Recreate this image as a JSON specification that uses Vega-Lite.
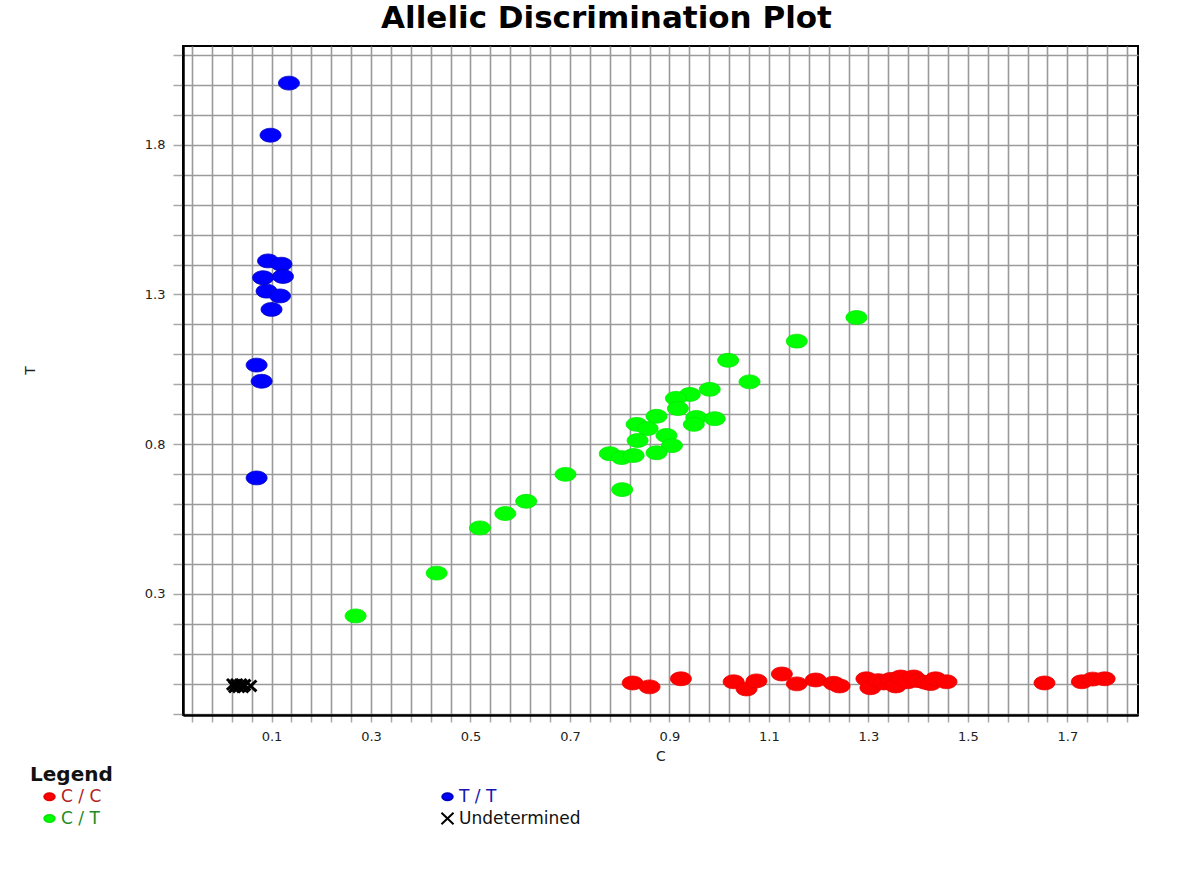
{
  "$schema": "https://vega.github.io/schema/vega-lite/v6.json",
  "autosize": "none",
  "width": 955,
  "height": 669,
  "padding": {"left": 183, "top": 46, "right": 56, "bottom": 172},
  "background": "#ffffff",
  "title": {"text": "Allelic Discrimination Plot", "font": "DejaVu Sans", "fontSize": 31, "fontWeight": "bold", "color": "#000000", "anchor": "middle", "dx": -54, "offset": -13, "baseline": "alphabetic"},
  "config": {
    "view": {"stroke": "#000000", "strokeWidth": 2},
    "axis": {"labelFont": "DejaVu Sans", "titleFont": "DejaVu Sans", "labelColor": "#222222", "titleColor": "#222222", "labelFontSize": 13, "titleFontSize": 14, "titleFontWeight": "normal", "gridColor": "#9a9a9a", "gridWidth": 1.6, "gridOpacity": 1, "tickColor": "#a8a8a8", "tickWidth": 1.5, "domainColor": "#000000", "domainWidth": 2.5, "labelOverlap": false, "labelFlush": false}
  },
  "data": {"values": [
    {"C": 0.826, "T": 0.002, "genotype": "C / C"},
    {"C": 0.860, "T": -0.011, "genotype": "C / C"},
    {"C": 0.923, "T": 0.016, "genotype": "C / C"},
    {"C": 1.029, "T": 0.006, "genotype": "C / C"},
    {"C": 1.055, "T": -0.018, "genotype": "C / C"},
    {"C": 1.075, "T": 0.009, "genotype": "C / C"},
    {"C": 1.126, "T": 0.032, "genotype": "C / C"},
    {"C": 1.156, "T": -0.001, "genotype": "C / C"},
    {"C": 1.194, "T": 0.012, "genotype": "C / C"},
    {"C": 1.230, "T": 0.001, "genotype": "C / C"},
    {"C": 1.242, "T": -0.008, "genotype": "C / C"},
    {"C": 1.296, "T": 0.016, "genotype": "C / C"},
    {"C": 1.304, "T": -0.014, "genotype": "C / C"},
    {"C": 1.320, "T": 0.010, "genotype": "C / C"},
    {"C": 1.331, "T": 0.002, "genotype": "C / C"},
    {"C": 1.345, "T": 0.014, "genotype": "C / C"},
    {"C": 1.355, "T": -0.008, "genotype": "C / C"},
    {"C": 1.365, "T": 0.022, "genotype": "C / C"},
    {"C": 1.379, "T": 0.006, "genotype": "C / C"},
    {"C": 1.391, "T": 0.022, "genotype": "C / C"},
    {"C": 1.400, "T": 0.010, "genotype": "C / C"},
    {"C": 1.415, "T": 0.004, "genotype": "C / C"},
    {"C": 1.425, "T": 0.000, "genotype": "C / C"},
    {"C": 1.435, "T": 0.016, "genotype": "C / C"},
    {"C": 1.457, "T": 0.006, "genotype": "C / C"},
    {"C": 1.654, "T": 0.002, "genotype": "C / C"},
    {"C": 1.729, "T": 0.006, "genotype": "C / C"},
    {"C": 1.751, "T": 0.015, "genotype": "C / C"},
    {"C": 1.775, "T": 0.016, "genotype": "C / C"},
    {"C": 1.276, "T": 1.223, "genotype": "C / T"},
    {"C": 1.156, "T": 1.144, "genotype": "C / T"},
    {"C": 1.018, "T": 1.080, "genotype": "C / T"},
    {"C": 1.061, "T": 1.008, "genotype": "C / T"},
    {"C": 0.981, "T": 0.983, "genotype": "C / T"},
    {"C": 0.941, "T": 0.966, "genotype": "C / T"},
    {"C": 0.913, "T": 0.953, "genotype": "C / T"},
    {"C": 0.917, "T": 0.919, "genotype": "C / T"},
    {"C": 0.954, "T": 0.889, "genotype": "C / T"},
    {"C": 0.991, "T": 0.885, "genotype": "C / T"},
    {"C": 0.949, "T": 0.866, "genotype": "C / T"},
    {"C": 0.874, "T": 0.893, "genotype": "C / T"},
    {"C": 0.834, "T": 0.866, "genotype": "C / T"},
    {"C": 0.856, "T": 0.852, "genotype": "C / T"},
    {"C": 0.894, "T": 0.829, "genotype": "C / T"},
    {"C": 0.836, "T": 0.812, "genotype": "C / T"},
    {"C": 0.905, "T": 0.795, "genotype": "C / T"},
    {"C": 0.874, "T": 0.771, "genotype": "C / T"},
    {"C": 0.780, "T": 0.768, "genotype": "C / T"},
    {"C": 0.804, "T": 0.755, "genotype": "C / T"},
    {"C": 0.828, "T": 0.762, "genotype": "C / T"},
    {"C": 0.691, "T": 0.699, "genotype": "C / T"},
    {"C": 0.805, "T": 0.648, "genotype": "C / T"},
    {"C": 0.612, "T": 0.609, "genotype": "C / T"},
    {"C": 0.570, "T": 0.568, "genotype": "C / T"},
    {"C": 0.519, "T": 0.520, "genotype": "C / T"},
    {"C": 0.432, "T": 0.369, "genotype": "C / T"},
    {"C": 0.269, "T": 0.226, "genotype": "C / T"},
    {"C": 0.135, "T": 2.006, "genotype": "T / T"},
    {"C": 0.098, "T": 1.832, "genotype": "T / T"},
    {"C": 0.093, "T": 1.412, "genotype": "T / T"},
    {"C": 0.120, "T": 1.401, "genotype": "T / T"},
    {"C": 0.083, "T": 1.356, "genotype": "T / T"},
    {"C": 0.123, "T": 1.360, "genotype": "T / T"},
    {"C": 0.090, "T": 1.311, "genotype": "T / T"},
    {"C": 0.117, "T": 1.295, "genotype": "T / T"},
    {"C": 0.100, "T": 1.250, "genotype": "T / T"},
    {"C": 0.070, "T": 1.064, "genotype": "T / T"},
    {"C": 0.080, "T": 1.010, "genotype": "T / T"},
    {"C": 0.070, "T": 0.687, "genotype": "T / T"},
    {"C": 0.022, "T": -0.003, "genotype": "Undetermined"},
    {"C": 0.026, "T": -0.011, "genotype": "Undetermined"},
    {"C": 0.030, "T": -0.003, "genotype": "Undetermined"},
    {"C": 0.034, "T": -0.011, "genotype": "Undetermined"},
    {"C": 0.038, "T": -0.003, "genotype": "Undetermined"},
    {"C": 0.042, "T": -0.011, "genotype": "Undetermined"},
    {"C": 0.046, "T": -0.005, "genotype": "Undetermined"},
    {"C": 0.058, "T": -0.008, "genotype": "Undetermined"}
  ]},
  "mark": {"type": "point", "size": 441, "opacity": 1, "filled": false},
  "encoding": {
    "x": {"field": "C", "type": "quantitative", "scale": {"domain": [-0.078, 1.842], "nice": false, "zero": false},
      "axis": {"title": "C", "values": [-0.06,-0.02,0.02,0.06,0.1,0.14,0.18,0.22,0.26,0.3,0.34,0.38,0.42,0.46,0.5,0.54,0.58,0.62,0.66,0.7,0.74,0.78,0.82,0.86,0.9,0.94,0.98,1.02,1.06,1.1,1.14,1.18,1.22,1.26,1.3,1.34,1.38,1.42,1.46,1.5,1.54,1.58,1.62,1.66,1.7,1.74,1.78,1.82],
        "labelExpr": "abs((datum.value-0.1)/0.2 - round((datum.value-0.1)/0.2)) < 0.01 ? format(datum.value, '.1f') : ''",
        "tickSize": 7, "labelPadding": 8, "titlePadding": 6}},
    "y": {"field": "T", "type": "quantitative", "scale": {"domain": [-0.105, 2.13], "nice": false, "zero": false},
      "axis": {"title": "T", "values": [-0.1,0,0.1,0.2,0.3,0.4,0.5,0.6,0.7,0.8,0.9,1,1.1,1.2,1.3,1.4,1.5,1.6,1.7,1.8,1.9,2,2.1],
        "labelExpr": "abs((datum.value-0.3)/0.5 - round((datum.value-0.3)/0.5)) < 0.01 ? format(datum.value, '.1f') : ''",
        "tickSize": 10, "labelPadding": 8, "titleX": -153, "titleY": 324, "titleAngle": -90, "titleAlign": "center", "titleBaseline": "middle"}},
    "fill": {"field": "genotype", "type": "nominal", "legend": null,
      "scale": {"domain": ["C / C", "C / T", "T / T", "Undetermined"], "range": ["#ff0000", "#00ff00", "#0000ff", "#000000"]}},
    "stroke": {"field": "genotype", "type": "nominal", "legend": null,
      "scale": {"domain": ["C / C", "C / T", "T / T", "Undetermined"], "range": ["#e80000", "#00e800", "#0000c0", "#000000"]}},
    "strokeWidth": {"condition": {"test": "datum.genotype === 'Undetermined'", "value": 3}, "value": 0.8},
    "shape": {"field": "genotype", "type": "nominal",
      "scale": {"domain": ["C / C", "C / T", "T / T", "Undetermined"], "range": ["M-1,0A1,0.66,0,1,1,1,0A1,0.66,0,1,1,-1,0Z", "M-1,0A1,0.66,0,1,1,1,0A1,0.66,0,1,1,-1,0Z", "M-1,0A1,0.66,0,1,1,1,0A1,0.66,0,1,1,-1,0Z", "M-0.55,-0.52L0.55,0.52M0.55,-0.52L-0.55,0.52"]},
      "legend": {"orient": "none", "legendX": -159, "legendY": 713, "direction": "vertical", "columns": 2, "title": "Legend",
        "titleFont": "DejaVu Sans", "titleFontSize": 20, "titleFontWeight": "bold", "titleColor": "#111111",
        "labelFont": "DejaVu Sans", "labelFontSize": 17, "symbolOffset": 11, "labelOffset": 3,
        "columnPadding": 326, "rowPadding": 3, "titlePadding": 3, "padding": 6,
        "labelColor": {"expr": "datum.label === 'C / C' ? '#b22222' : datum.label === 'C / T' ? '#228b22' : datum.label === 'T / T' ? '#1515b0' : '#111111'"},
        "symbolFillColor": {"expr": "datum.value === 'C / C' ? '#e00000' : datum.value === 'C / T' ? '#22a022' : datum.value === 'T / T' ? '#0000dd' : '#000000'"},
        "symbolStrokeColor": {"expr": "datum.value === 'Undetermined' ? '#000000' : 'transparent'"},
        "symbolStrokeWidth": 2,
        "symbolSize": {"expr": "datum.value === 'Undetermined' ? 480 : 110"}
      }}
  }
}
